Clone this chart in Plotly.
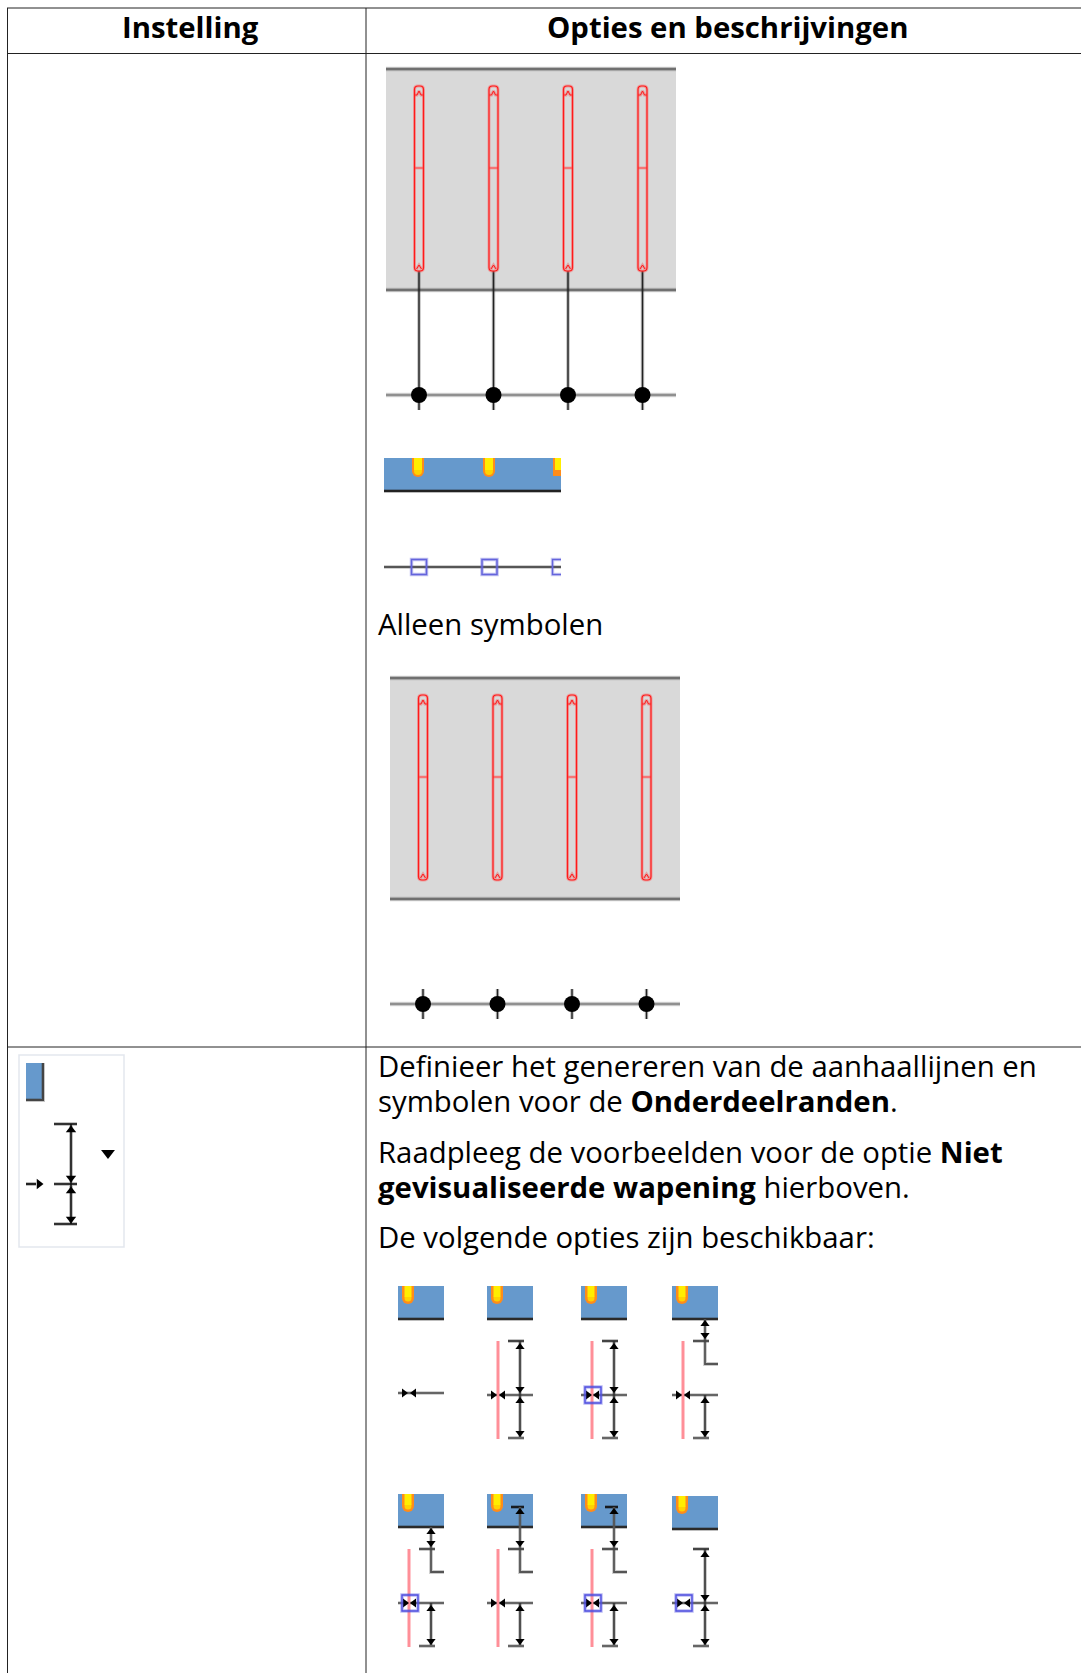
import plotly.graph_objects as go

W, H = 1081, 1673

# ---- table text ----
headers = ["<b>Instelling</b>", "<b>Opties en beschrijvingen</b>"]
header_x = [190, 727]
header_y = 26.5
body_lines = ["Alleen symbolen",
              "Definieer het genereren van de aanhaallijnen en",
              "symbolen voor de <b>Onderdeelranden</b>.",
              "Raadpleeg de voorbeelden voor de optie <b>Niet</b>",
              "<b>gevisualiseerde wapening</b> hierboven.",
              "De volgende opties zijn beschikbaar:"]
body_y = [623.5, 1065.5, 1100.5, 1151.5, 1186.5, 1236.5]
body_x = 375.5
FONT_SIZE = 29.33

# ---- table grid ----
grid_v = [7.5, 366]
grid_h = [8, 53.5, 1047]

# ---- elevation panels (top: with leaders, bottom: symbols only) ----
bar_x = [419, 493.5, 568, 642.5]
panel_offsets = [(0, 0, True), (4, 609, False)]
panel_x = (386, 676)
panel_y = (69, 290)
bar_y = (86, 271)
bar_mid_y = 168
axis_y = 395
stub_y = 410
stub_top = 380

# ---- section strip ----
strip_x = (384, 561)
strip_y = (458, 491)
yellow_x = [418, 489, 559]
box_x = [419, 489.5, 560]
box_line_y = 567

# ---- option thumbnails ----
thumb_left = [398, 487, 581, 672]
thumb_row_top = [1286, 1494]
thumb_width = 46
thumbs = [
    dict(col=0, row=0, red=False, box=False, dim="none", top="none"),
    dict(col=1, row=0, red=True, box=False, dim="full", top="none"),
    dict(col=2, row=0, red=True, box=True, dim="full", top="none"),
    dict(col=3, row=0, red=True, box=False, dim="lower", top="short"),
    dict(col=0, row=1, red=True, box=True, dim="lower", top="short"),
    dict(col=1, row=1, red=True, box=False, dim="lower", top="long"),
    dict(col=2, row=1, red=True, box=True, dim="lower", top="long"),
    dict(col=3, row=1, red=False, box=True, dim="full", top="none"),
]

BLUE = "#6699cc"
RED = "#ff1a1a"
PINK = "#ff8f98"
DARK = "#222222"

shapes = []
groups = {}
markers = []


def rect(x0, x1, y0, y1, fill=None, line=None, lw=1, layer="above", soft=None):
    if soft:
        shapes.append(dict(type="rect", xref="x", yref="y", x0=x0, x1=x1, y0=y0, y1=y1,
                           fillcolor="rgba(0,0,0,0)", layer=layer,
                           line=dict(color=soft, width=lw + 2)))
    shapes.append(dict(type="rect", xref="x", yref="y", x0=x0, x1=x1, y0=y0, y1=y1,
                       fillcolor=fill or "rgba(0,0,0,0)", layer=layer,
                       line=dict(color=line or "rgba(0,0,0,0)", width=lw if line else 0)))


def rounded_bar(x, y0, y1, half=4.5, r=3.5):
    path = (f"M{x-half},{y0+r} Q{x-half},{y0} {x-half+r},{y0} L{x+half-r},{y0} Q{x+half},{y0} {x+half},{y0+r} "
            f"L{x+half},{y1-r} Q{x+half},{y1} {x+half-r},{y1} L{x-half+r},{y1} Q{x-half},{y1} {x-half},{y1-r} Z")
    for col, w in [("rgba(255,90,90,0.45)", 3), (RED, 1.2)]:
        shapes.append(dict(type="path", xref="x", yref="y", path=path, layer="above",
                           line=dict(color=col, width=w)))


def seg(xs, ys, color=DARK, width=1.5, soft=True):
    g = groups.setdefault((color, width, soft), ([], []))
    g[0].extend(list(xs) + [None])
    g[1].extend(list(ys) + [None])


def mark(x, y, symbol, size=8, color="#000000"):
    markers.append((x, y, symbol, size, color))


# grid
for gx in grid_v:
    seg([gx, gx], [8, H], "#222222", 1, soft=False)
for gy in grid_h:
    seg([7, W], [gy, gy], "#222222", 1, soft=False)

# elevation panels
for dx, dy, leaders in panel_offsets:
    rect(panel_x[0] + dx, panel_x[1] + dx, panel_y[0] + dy, panel_y[1] + dy, fill="#d9d9d9", layer="below")
    seg([panel_x[0] + dx, panel_x[1] + dx], [panel_y[0] + dy] * 2, "#707070", 2.5)
    seg([panel_x[0] + dx, panel_x[1] + dx], [panel_y[1] + dy] * 2, "#707070", 2.5)
    seg([panel_x[0] + dx, panel_x[1] + dx], [axis_y + dy] * 2, "#909090", 2.5)
    for bx in bar_x:
        x = bx + dx
        rounded_bar(x, bar_y[0] + dy, bar_y[1] + dy)
        seg([x - 4.5, x - 2, x, x + 2, x + 4.5], [bar_y[0] + dy + 9, bar_y[0] + dy + 9, bar_y[0] + dy + 5,
                                                 bar_y[0] + dy + 9, bar_y[0] + dy + 9], RED, 1)
        seg([x - 4.5, x + 4.5], [bar_mid_y + dy] * 2, "#ff5050", 1.2)
        seg([x - 2.5, x, x + 2.5], [bar_y[1] + dy - 2, bar_y[1] + dy - 6, bar_y[1] + dy - 2], RED, 1)
        seg([x, x], [(bar_y[1] if leaders else stub_top) + dy, stub_y + dy], "#222222", 1.4)
        mark(x, axis_y + dy, "circle", 16, "#000000")

# section strip
rect(strip_x[0], strip_x[1], strip_y[0], strip_y[1], fill=BLUE, layer="below")
seg(strip_x, [strip_y[1]] * 2, "#222222", 2.2)
for yx in yellow_x:
    x1 = min(yx + 6, strip_x[1])
    rect(yx - 6, x1, strip_y[0], strip_y[0] + 13, fill="#ff8c1a", layer="below")
    if yx + 6 <= strip_x[1]:
        mark(yx, strip_y[0] + 13, "circle", 12, "#ff8c1a")
        mark(yx, strip_y[0] + 13, "circle", 8, "#ffd400")
    else:
        rect(yx - 6, x1, strip_y[0] + 13, strip_y[0] + 18, fill="#ff8c1a", layer="below")
    rect(yx - 4, min(yx + 4, strip_x[1]), strip_y[0], strip_y[0] + 12, fill="#ffee00")
seg(strip_x, [box_line_y] * 2, "#333333", 1.4)
for bx in box_x:
    if bx + 7.5 <= strip_x[1]:
        rect(bx - 7.5, bx + 7.5, box_line_y - 7.5, box_line_y + 7.5, line="#6464dc", lw=1.5,
             soft="rgba(100,100,220,0.4)")
    else:
        seg([strip_x[1], bx - 7.5, bx - 7.5, strip_x[1]],
            [box_line_y - 7.5, box_line_y - 7.5, box_line_y + 7.5, box_line_y + 7.5], "#6464dc", 1.5)

# icon
rect(19, 124, 1055, 1247, fill="#ffffff", line="#e3e7ee", lw=1.5, layer="below")
rect(26, 43, 1063, 1100, fill=BLUE, layer="below")
seg([26, 43, 43], [1100, 1100, 1063], "#444444", 2)
seg([71, 71], [1124, 1224], "#111111", 1.6)
for cy in [1124, 1184, 1224]:
    seg([54, 77], [cy, cy], "#111111", 1.6)
for ay, sym in [(1130, "triangle-up"), (1178, "triangle-down"), (1191, "triangle-up"), (1219, "triangle-down")]:
    mark(71, ay, sym, 9)
seg([26, 36], [1184, 1184], "#111111", 1.8)
mark(39, 1184, "triangle-right", 9)
mark(108, 1153, "triangle-down", 12)

# thumbnails
for t in thumbs:
    x0 = thumb_left[t["col"]]
    y0 = thumb_row_top[t["row"]]
    x1 = x0 + thumb_width
    if t["col"] == 3 and t["row"] == 1:
        y0 += 2
    rect(x0, x1, y0, y0 + 33, fill=BLUE, layer="below")
    seg([x0, x1], [y0 + 33] * 2, "#2a2a2a", 2.2)
    rect(x0 + 4, x0 + 16, y0, y0 + 12, fill="#ff8c1a", layer="below")
    mark(x0 + 10, y0 + 12, "circle", 12, "#ff8c1a")
    mark(x0 + 10, y0 + 12, "circle", 7, "#ffd400")
    rect(x0 + 6.5, x0 + 13.5, y0, y0 + 11, fill="#ffee00")

    ym = 1395 if t["row"] == 0 else 1603
    ytop = ym - 54
    ybot = ym + 43
    vx = x0 + 33
    if t["col"] == 0 and t["row"] == 0:
        ym = 1393
    if t["red"]:
        seg([x0 + 11, x0 + 11], [ytop, ym + 44], PINK, 3, soft=False)
    seg([x0, x1], [ym, ym], "#444444", 1.4)
    if t["box"]:
        rect(x0 + 4, x0 + 20, ym - 8, ym + 8, line="#5050e0", lw=1.4, soft="rgba(80,80,224,0.4)")
        mark(x0 + 7, ym, "triangle-right", 8)
        mark(x0 + 16, ym, "triangle-left", 8)
    else:
        mark(x0 + 6, ym, "triangle-right", 8)
        mark(x0 + 16, ym, "triangle-left", 8)
    if t["dim"] != "none":
        seg([vx, vx], [ym if t["dim"] == "lower" else ytop, ybot], "#333333", 1.6)
        seg([vx - 12, vx + 4], [ybot, ybot], "#666666", 2)
        mark(vx, ym + 6, "triangle-up", 8)
        mark(vx, ybot - 5, "triangle-down", 8)
    if t["dim"] == "full":
        seg([vx - 12, vx + 4], [ytop, ytop], "#444444", 2)
        mark(vx, ytop + 6, "triangle-up", 8)
        mark(vx, ym - 6, "triangle-down", 8)
    if t["top"] != "none":
        start = y0 + 33 if t["top"] == "short" else y0 + 13
        seg([vx, vx, x1], [start, ytop + 23, ytop + 23], "#555555", 1.8)
        seg([vx - 12, vx + 4], [ytop, ytop], "#444444", 1.8)
        mark(vx, ytop - 6, "triangle-down", 8)
        if t["top"] == "short":
            mark(vx, ytop - 17, "triangle-up", 8)
        else:
            seg([vx - 9, vx + 4], [y0 + 13, y0 + 13], "#111111", 1.8)
            mark(vx, y0 + 18, "triangle-up", 8)

fig = go.Figure()
for (color, width, soft), (xs, ys) in groups.items():
    if soft:
        fig.add_trace(go.Scatter(x=xs, y=ys, mode="lines", opacity=0.3,
                                 line=dict(color=color, width=width + 2),
                                 hoverinfo="skip", showlegend=False))
    fig.add_trace(go.Scatter(x=xs, y=ys, mode="lines", line=dict(color=color, width=width),
                             hoverinfo="skip", showlegend=False))
fig.add_trace(go.Scatter(
    x=[m[0] for m in markers], y=[m[1] for m in markers], mode="markers",
    marker=dict(symbol=[m[2] for m in markers], size=[m[3] for m in markers],
                color=[m[4] for m in markers], opacity=1, line=dict(width=0)),
    hoverinfo="skip", showlegend=False))

FONT = "Open Sans"
ann = []
for txt, x in zip(headers, header_x):
    ann.append(dict(x=x, y=header_y, text=txt, xanchor="center", yanchor="middle", xref="x", yref="y",
                    showarrow=False, font=dict(family=FONT, size=FONT_SIZE, color="#000000")))
for txt, y in zip(body_lines, body_y):
    ann.append(dict(x=body_x, y=y, text=txt, xanchor="left", yanchor="middle", xref="x", yref="y",
                    showarrow=False, font=dict(family=FONT, size=FONT_SIZE, color="#000000")))

fig.update_layout(
    width=W, height=H, margin=dict(l=0, r=0, t=0, b=0),
    paper_bgcolor="#ffffff", plot_bgcolor="#ffffff", showlegend=False,
    xaxis=dict(range=[0, W], visible=False, fixedrange=True),
    yaxis=dict(range=[H, 0], visible=False, fixedrange=True),
    shapes=shapes, annotations=ann,
)
fig.write_html("out.html", config=dict(displayModeBar=False),
               post_script="document.body.style.margin='0';document.documentElement.style.overflow='hidden';")
